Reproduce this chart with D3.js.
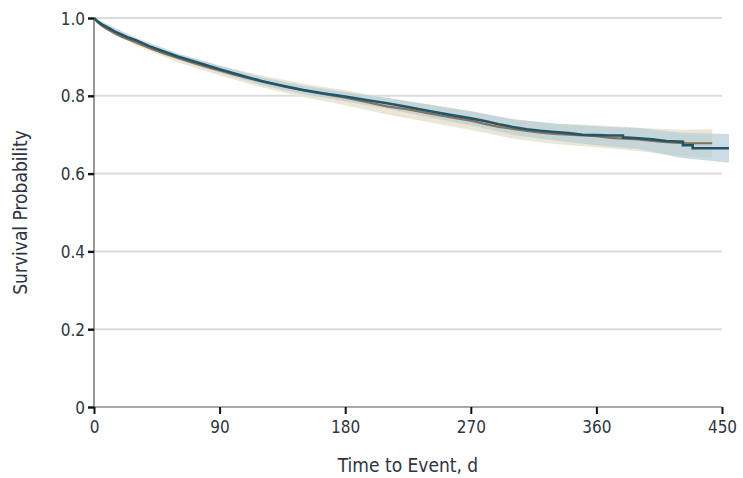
<!DOCTYPE html>
<html>
<head>
<meta charset="utf-8">
<script src="https://cdn.jsdelivr.net/npm/d3@7"></script>
<style>
  html, body { margin: 0; padding: 0; background: #fff; }
  svg text { font-family: "DejaVu Sans Condensed", "DejaVu Sans", sans-serif; font-stretch: condensed; fill: #2f3442; }
</style>
</head>
<body>
<svg id="chart" width="743" height="478"></svg>
<script>
// ---- data ----
const xTicks = [0, 90, 180, 270, 360, 450];
const yTicks = [0, 0.2, 0.4, 0.6, 0.8, 1.0];
const yTickLabels = ["0", "0.2", "0.4", "0.6", "0.8", "1.0"];

// Group A (teal)
const timesA = [0,3,6,10,15,20,25,30,40,50,60,70,80,90,100,110,120,135,150,165,180,195,210,225,240,255,270,280,290,300,310,320,330,340,350,360,370,379,379,390,400,410,422,422,429,429,440,450,455];
const survA  = [1.0,0.99,0.983,0.975,0.965,0.957,0.949,0.943,0.927,0.914,0.901,0.89,0.879,0.868,0.858,0.848,0.838,0.826,0.815,0.806,0.798,0.789,0.781,0.771,0.761,0.751,0.742,0.735,0.727,0.72,0.714,0.71,0.707,0.704,0.70,0.699,0.698,0.698,0.693,0.691,0.688,0.684,0.682,0.673,0.673,0.665,0.665,0.665,0.665];
// Group B (brown)
const timesB = [0,3,6,10,15,20,25,30,40,50,60,70,80,90,100,110,120,135,150,165,180,195,210,225,240,255,270,280,290,300,310,320,330,340,350,360,370,380,390,400,410,420,425,430,440,443];
const survB  = [1.0,0.988,0.979,0.97,0.96,0.951,0.944,0.937,0.922,0.909,0.897,0.886,0.875,0.865,0.855,0.846,0.837,0.825,0.814,0.804,0.795,0.784,0.773,0.765,0.755,0.745,0.736,0.728,0.72,0.715,0.71,0.705,0.702,0.70,0.698,0.696,0.692,0.69,0.688,0.684,0.681,0.679,0.678,0.678,0.678,0.678];

// Confidence bands
const ciTimesA = [0,30,60,90,120,150,180,210,240,270,300,330,360,390,420,455];
const lowA  = [1.0,0.937,0.893,0.859,0.828,0.804,0.786,0.767,0.745,0.724,0.70,0.685,0.673,0.663,0.641,0.628];
const highA = [1.0,0.949,0.909,0.877,0.848,0.826,0.810,0.795,0.777,0.760,0.74,0.729,0.721,0.717,0.705,0.702];
const ciTimesB = [0,30,60,90,120,150,180,210,240,270,300,330,360,390,420,443];
const lowB  = [1.0,0.929,0.886,0.852,0.822,0.797,0.776,0.752,0.732,0.712,0.69,0.676,0.668,0.658,0.645,0.642];
const highB = [1.0,0.945,0.908,0.878,0.852,0.831,0.814,0.794,0.778,0.760,0.74,0.728,0.724,0.718,0.713,0.714];

// ---- layout ----
const svg = d3.select("#chart");
const x = d3.scaleLinear().domain([0, 450]).range([94, 722]);
const y = d3.scaleLinear().domain([0, 1]).range([407, 18]);

// gridlines
svg.append("g").selectAll("line").data(yTicks.filter(d => d > 0)).join("line")
  .attr("x1", x(0)).attr("x2", x(450))
  .attr("y1", d => y(d)).attr("y2", d => y(d))
  .attr("stroke", "#dcdcdc").attr("stroke-width", 2);

// bands
function band(times, lo, hi) {
  return d3.area().x((d, i) => x(times[i])).y0((d, i) => y(lo[i])).y1((d, i) => y(hi[i]))
    .curve(d3.curveLinear)(times);
}
svg.append("path").attr("d", band(ciTimesB, lowB, highB)).attr("fill", "#e9e3d2").attr("opacity", 0.9);
svg.append("path").attr("d", band(ciTimesA, lowA, highA)).attr("fill", "#b5cdd9").attr("opacity", 0.7);

// lines
function km(times, s) {
  return d3.line().x((d, i) => x(times[i])).y((d, i) => y(s[i])).curve(d3.curveLinear)(times);
}
svg.append("path").attr("d", km(timesB, survB)).attr("fill", "none").attr("stroke", "#8a7257").attr("stroke-width", 2.2);
svg.append("path").attr("d", km(timesA, survA)).attr("fill", "none").attr("stroke", "#20566a").attr("stroke-width", 2.6);

// axes
const yAxis = d3.axisLeft(y).tickValues(yTicks).tickFormat((d, i) => yTickLabels[i]).tickSize(6).tickPadding(3);
const gy = svg.append("g").attr("transform", `translate(${x(0)},0)`).call(yAxis);
gy.select(".domain").attr("stroke", "#555").attr("stroke-width", 1.2).attr("d", `M0,${y(1)}V${y(0)}`);
gy.selectAll(".tick line").attr("stroke", "#111").attr("stroke-width", 2.4);
gy.selectAll(".tick text").style("font-size", "17px").attr("dy", "0.36em");

const xAxis = d3.axisBottom(x).tickValues(xTicks).tickSize(7).tickPadding(7);
const gx = svg.append("g").attr("transform", `translate(0,${y(0)})`).call(xAxis);
gx.select(".domain").attr("stroke", "#555").attr("stroke-width", 1.2).attr("d", `M${x(0)},0H${x(450)}`);
gx.selectAll(".tick line").attr("stroke", "#111").attr("stroke-width", 2);
gx.selectAll(".tick text").style("font-size", "17px");

// axis titles
svg.append("text").attr("x", x(225)).attr("y", 472).attr("text-anchor", "middle")
  .style("font-size", "19px").text("Time to Event, d");
svg.append("text").attr("transform", `translate(27,${y(0.5)}) rotate(-90)`).attr("text-anchor", "middle")
  .style("font-size", "19px").text("Survival Probability");
</script>
</body>
</html>
